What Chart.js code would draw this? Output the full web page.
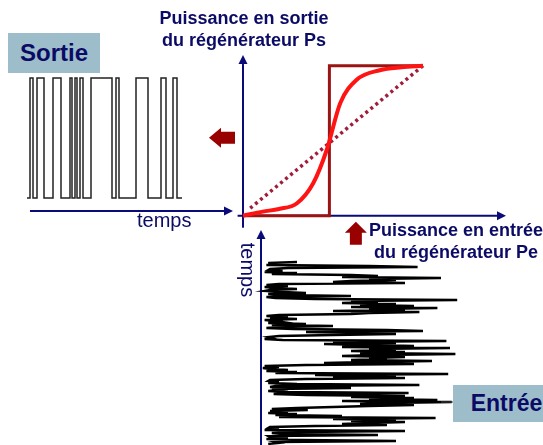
<!DOCTYPE html>
<html><head><meta charset="utf-8">
<script src="https://cdn.jsdelivr.net/npm/chart.js@4/dist/chart.umd.min.js"></script>
<style>
html,body{margin:0;padding:0;background:#fff;overflow:hidden}
#wrap{position:relative;width:543px;height:445px;overflow:hidden;font-family:"Liberation Sans",Arial,sans-serif}
canvas{position:absolute;left:0;top:0}
.lbl{position:absolute;color:#0b0b66;white-space:nowrap}
.b{font-weight:bold;font-size:18px;line-height:22px;text-align:center}
.box{position:absolute;background:#9dbdcb;color:#0b0b66;font-weight:bold;display:flex;align-items:center;justify-content:center}
</style></head>
<body><div id="wrap"><canvas id="c" width="543" height="445"></canvas>
<div class="lbl b" style="left:144px;top:7px;width:200px">Puissance en sortie<br>du régénérateur Ps</div>
<div class="lbl b" style="left:356px;top:219px;width:200px">Puissance en entrée<br>du régénérateur Pe</div>
<div class="lbl" style="left:137px;top:208px;font-size:20px;line-height:24px">temps</div>
<div class="lbl" style="left:218px;top:258px;width:60px;height:24px;font-size:20px;line-height:24px;text-align:center;transform:rotate(90deg)">temps</div>
<div class="box" style="left:8px;top:33px;width:92px;height:40px;font-size:24px">Sortie</div>
<div class="box" style="left:453px;top:385px;width:107px;height:37px;font-size:23px">Entrée</div>
</div>
<script>
// ---- Output (Sortie) square wave: transition times and new levels ----
const outTimes  = [0,3,6,10,17,26,34,43,45,48,50,53,56,64,85,89,92,109,121,134,139,146,150,155];
const outLevels = [0,1,0,1,0,1,0,1,0,1,0,1,0,1,0,1,0,1,0,1,0,1,0,0];

// ---- Transfer function of the regenerator (Pe -> Ps) ----
const sigmoidPe = [0, 0.11, 0.2, 0.3, 0.39, 0.465, 0.54, 0.63, 0.76, 0.88, 1];
const sigmoidPs = [0, 0.027, 0.045, 0.083, 0.216, 0.438, 0.75, 0.905, 0.97, 0.99, 1];
const stepPe = [0, 0.48, 0.48, 1];
const stepPs = [0, 0, 1, 1];
const linearPe = [0.04, 1];
const linearPs = [0.05, 1];

// ---- Input (Entrée) noisy power, one sample per time step (top to bottom) ----
const inputPower = [
  0.3,0.14,0.2,0.13,0.7,0.97,0.25,0.15,
  0.14,0.22,0.12,0.3,0.16,0.6,0.75,0.55,1.1,0.7,0.85,0.6,
  0.5,0.9,0.2,0.13,0.25,0.12,0.18,0.3,
  0.15,0.12,0.22,0.35,0.14,0.2,0.6,0.13,0.18,0.4,
  1.19,0.6,0.75,0.55,0.85,0.65,0.95,0.6,1.08,0.7,0.9,0.5,0.98,0.7,0.6,
  0.2,0.13,0.25,0.15,0.3,0.12,0.18,0.22,0.14,0.35,0.16,0.5,0.2,0.13,0.28,
  0.8,1.0,0.35,0.65,0.85,0.5,0.2,0.14,
  0.16,0.12,0.22,1.13,0.5,0.85,0.45,
  0.7,0.95,0.55,1.15,0.7,0.85,0.6,0.9,0.65,1.18,0.75,0.55,0.9,0.7,0.8,0.6,1.05,0.7,0.45,0.95,
  0.35,0.12,0.2,0.11,0.15,0.25,0.13,0.3,0.18,
  1.14,0.4,0.85,0.5,0.9,0.35,0.15,0.14,
  0.2,0.14,0.3,0.98,0.18,0.15,0.6,0.16,
  0.2,0.14,0.25,0.92,0.17,0.35,0.9,
  0.6,0.95,0.7,1.08,0.55,1.16,0.8,0.65,0.95,0.7,0.5,
  0.3,0.16,0.36,0.15,0.25,0.14,0.3,0.18,0.55,0.2,
  1.07,0.5,0.85,0.6,0.9,0.7,0.55,0.8,0.4,0.15,
  0.14,0.2,0.12,0.9,0.3,0.16,0.22,0.75,0.14,
  0.15,0.25,0.13,0.32,0.85,0.18,0.2,0.14
];

const zip = (xs, ys) => xs.map((x, i) => ({x: x, y: ys[i]}));

const NAVY = '#0a0a78';
const DARKRED = '#990000';

function arrowLine(ctx, x1, y1, x2, y2) {
  ctx.save();
  ctx.strokeStyle = NAVY; ctx.fillStyle = NAVY; ctx.lineWidth = 2;
  const a = Math.atan2(y2 - y1, x2 - x1), L = 9, W = 4.5;
  const bx = x2 - L * Math.cos(a), by = y2 - L * Math.sin(a);
  ctx.beginPath(); ctx.moveTo(x1, y1); ctx.lineTo(bx, by); ctx.stroke();
  ctx.beginPath();
  ctx.moveTo(x2, y2);
  ctx.lineTo(bx + W * Math.sin(a), by - W * Math.cos(a));
  ctx.lineTo(bx - W * Math.sin(a), by + W * Math.cos(a));
  ctx.closePath(); ctx.fill();
  ctx.restore();
}

const decor = {
  id: 'decor',
  beforeDatasetsDraw(chart) {
    const ctx = chart.ctx, s = chart.scales;
    const ox = s.xT.getPixelForValue(0), oy = s.yT.getPixelForValue(0);
    arrowLine(ctx, ox, s.yT.getPixelForValue(-0.08), ox, s.yT.getPixelForValue(1.071));
    arrowLine(ctx, s.xT.getPixelForValue(-0.03), oy, s.xT.getPixelForValue(1.461), oy);
    const ty = s.yS.getPixelForValue(-0.108);
    arrowLine(ctx, s.xS.getPixelForValue(3), ty, s.xS.getPixelForValue(206), ty);
    const ix = s.xT.getPixelForValue(0.1);
    arrowLine(ctx, ix, s.yE.getPixelForValue(183), ix, s.yE.getPixelForValue(-32));
  },
  afterDatasetsDraw(chart) {
    const ctx = chart.ctx, s = chart.scales;
    ctx.save();
    ctx.fillStyle = DARKRED;
    const lx = s.xT.getPixelForValue(0) - 34, ly = s.yT.getPixelForValue(0.52);
    ctx.beginPath();
    ctx.moveTo(lx, ly);
    ctx.lineTo(lx + 12, ly - 10);
    ctx.lineTo(lx + 12, ly - 6);
    ctx.lineTo(lx + 26, ly - 6);
    ctx.lineTo(lx + 26, ly + 6);
    ctx.lineTo(lx + 12, ly + 6);
    ctx.lineTo(lx + 12, ly + 10);
    ctx.closePath(); ctx.fill();
    const ux = s.xT.getPixelForValue(0.627), uy = s.yT.getPixelForValue(0) + 6;
    ctx.beginPath();
    ctx.moveTo(ux, uy);
    ctx.lineTo(ux + 11, uy + 11);
    ctx.lineTo(ux + 6, uy + 11);
    ctx.lineTo(ux + 6, uy + 23);
    ctx.lineTo(ux - 6, uy + 23);
    ctx.lineTo(ux - 6, uy + 11);
    ctx.lineTo(ux - 11, uy + 11);
    ctx.closePath(); ctx.fill();
    ctx.strokeStyle = '#444'; ctx.lineWidth = 1;
    const cy = s.yE.getPixelForValue(140);
    ctx.beginPath(); ctx.moveTo(s.xT.getPixelForValue(1.1), cy); ctx.lineTo(s.xT.getPixelForValue(1.17), cy); ctx.stroke();
    ctx.restore();
  }
};

new Chart(document.getElementById('c'), {
  type: 'scatter',
  data: {
    datasets: [
      { data: zip(stepPe, stepPs), xAxisID: 'xT', yAxisID: 'yT', showLine: true,
        borderColor: '#9a1414', borderWidth: 3, pointRadius: 0, order: 3 },
      { data: zip(linearPe, linearPs), xAxisID: 'xT', yAxisID: 'yT', showLine: true,
        borderColor: '#a01c38', borderWidth: 3.5, borderDash: [3, 3.5], pointRadius: 0, order: 2 },
      { data: zip(sigmoidPe, sigmoidPs), xAxisID: 'xT', yAxisID: 'yT', showLine: true,
        borderColor: '#ff1414', borderWidth: 4, pointRadius: 0, cubicInterpolationMode: 'monotone', order: 1 },
      { data: zip(outTimes, outLevels), xAxisID: 'xS', yAxisID: 'yS', showLine: true, stepped: 'before',
        borderColor: '#222', borderWidth: 1.5, pointRadius: 0 },
      { data: inputPower.map((p, i) => ({x: p, y: i})), xAxisID: 'xT', yAxisID: 'yE', showLine: true,
        borderColor: '#000', borderWidth: 2.3, pointRadius: 0 }
    ]
  },
  options: {
    responsive: false, devicePixelRatio: 1, animation: false,
    layout: { padding: 0 },
    plugins: { legend: { display: false }, tooltip: { enabled: false } },
    scales: {
      xT: { type: 'linear', axis: 'x', display: false, min: -1.35, max: 1.66667 },
      yT: { type: 'linear', axis: 'y', display: false, min: -1.5287, max: 1.438 },
      xS: { type: 'linear', axis: 'x', display: false, min: -27, max: 516 },
      yS: { type: 'linear', axis: 'y', display: false, min: -2.0583, max: 1.65 },
      yE: { type: 'linear', axis: 'y', display: false, reverse: true, min: -262, max: 183 }
    }
  },
  plugins: [decor]
});
</script>
</body></html>
